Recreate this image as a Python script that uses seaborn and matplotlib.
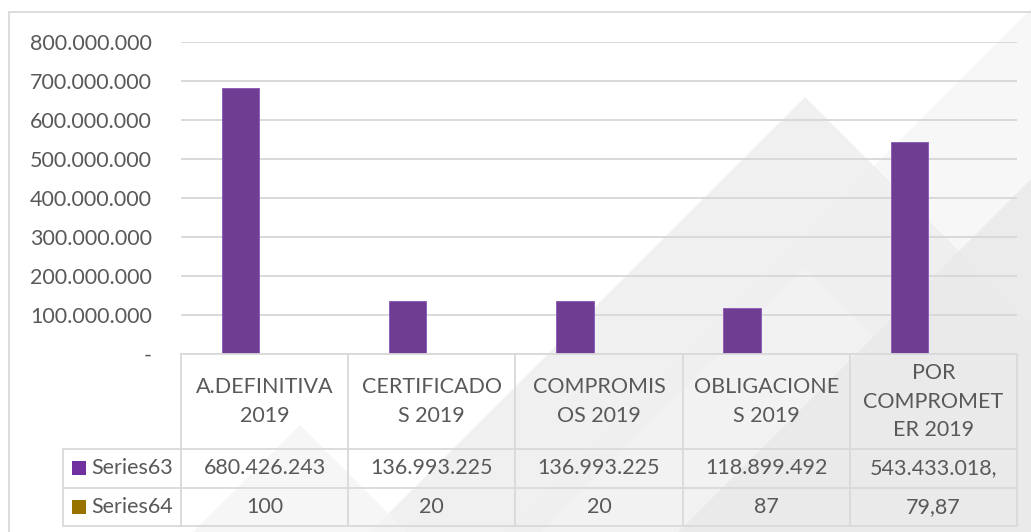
import matplotlib
matplotlib.use("Agg")
import matplotlib.pyplot as plt
import matplotlib.transforms as mtransforms
from matplotlib.lines import Line2D
from matplotlib.patches import Polygon, Rectangle
import pandas as pd
import seaborn as sns

# datos
categorias = ["A.DEFINITIVA 2019", "CERTIFICADOS 2019", "COMPROMISOS 2019",
              "OBLIGACIONES 2019", "POR COMPROMETER 2019"]
encabezados = ["A.DEFINITIVA\n2019", "CERTIFICADO\nS 2019", "COMPROMIS\nOS 2019",
               "OBLIGACIONE\nS 2019", "POR\nCOMPROMET\nER 2019"]
series = ["Series63", "Series64"]
serie63 = [680426243, 136993225, 136993225, 118899492, 543433018]
serie64 = [100, 20, 20, 87, 79.87]
texto63 = ["680.426.243", "136.993.225", "136.993.225", "118.899.492", "543.433.018,"]
texto64 = ["100", "20", "20", "87", "79,87"]
colores = ["#7030A0", "#997300"]
marcas_y = [0, 100e6, 200e6, 300e6, 400e6, 500e6, 600e6, 700e6, 800e6]

W, H = 1031, 532
GRIS_TXT = "#595959"
GRIS_LIN = "#d9d9d9"
FS = 15.5


def fx(px):
    return px / W


def fy(py):
    return 1 - py / H


def etiqueta_y(v):
    if v == 0:
        return "-"
    return "{:,.0f}".format(v).replace(",", ".")


sns.set_theme(style="white")
plt.rcParams["font.family"] = ["Lato", "DejaVu Sans"]

fig = plt.figure(figsize=(W / 100, H / 100), dpi=100)
fig.patch.set_facecolor("white")

# marca de agua de fondo (triangulos grises)
for pts, col in [
    ([(1045, -5), (1582, 532), (508, 532)], "#f5f5f5"),
    ([(805, 97), (1240, 532), (370, 532)], "#ededed"),
    ([(805, 268), (1069, 532), (541, 532)], "#f4f4f4"),
    ([(1060, 150), (1442, 532), (678, 532)], "#e9e9e9"),
    ([(300, 425), (407, 532), (193, 532)], "#f4f4f4"),
]:
    fig.add_artist(Polygon([(fx(a), fy(b)) for a, b in pts], closed=True,
                           transform=fig.transFigure, facecolor=col,
                           edgecolor="none", alpha=0.8, zorder=-2))

# borde del area del grafico
fig.add_artist(Line2D([fx(8.5), fx(8.5)], [fy(12), fy(540)], color=GRIS_LIN,
                      lw=1.3, transform=fig.transFigure, zorder=-1))
fig.add_artist(Line2D([fx(8.5), fx(1040)], [fy(12), fy(12)], color=GRIS_LIN,
                      lw=1.3, transform=fig.transFigure, zorder=-1))

ax = fig.add_axes([fx(181), fy(354), fx(1017) - fx(181), fy(41.7) - fy(354)])
ax.patch.set_alpha(0)

df = pd.DataFrame({
    "categoria": categorias * 2,
    "serie": [s for s in series for _ in categorias],
    "valor": serie63 + serie64,
})
sns.barplot(data=df, x="categoria", y="valor", hue="serie", palette=colores,
            width=0.576, gap=0.226, ax=ax, legend=False, zorder=3,
            edgecolor="#8a55b8", linewidth=0.6)

ax.set_xlim(-0.5, len(categorias) - 0.5)
ax.set_ylim(0, 800e6)
ax.set_yticks(marcas_y)
ax.set_yticklabels([etiqueta_y(v) for v in marcas_y])
ax.set_xticks([])
ax.set_xlabel("")
ax.set_ylabel("")
ax.set_axisbelow(True)
ax.yaxis.grid(True, color=GRIS_LIN, lw=1.4)
for s in ax.spines.values():
    s.set_visible(False)
ax.tick_params(axis="y", length=0, pad=21, labelsize=FS, labelcolor=GRIS_TXT)

# tabla de datos bajo el eje
tr = mtransforms.blended_transform_factory(ax.transData, fig.transFigure)
n = len(categorias)
x_izq, x_der = -0.5, n - 0.5
x_rot = -0.5 - (181 - 63) / (836 / n)
y_top, y_f1, y_f2, y_bot = fy(354), fy(449), fy(487.7), fy(526)

fig.add_artist(Line2D([x_izq, x_der], [y_top, y_top], color=GRIS_LIN, lw=1.3, transform=tr))
for yy in [y_f1, y_f2, y_bot]:
    fig.add_artist(Line2D([x_rot, x_der], [yy, yy], color=GRIS_LIN, lw=1.3, transform=tr))
for i in range(n + 1):
    fig.add_artist(Line2D([i - 0.5, i - 0.5], [y_top, y_bot], color=GRIS_LIN, lw=1.3, transform=tr))
fig.add_artist(Line2D([x_rot, x_rot], [y_f1, y_bot], color=GRIS_LIN, lw=1.3, transform=tr))

for i in range(n):
    fig.text(i, (y_top + y_f1) / 2, encabezados[i], transform=tr, ha="center",
             va="center", fontsize=FS, color=GRIS_TXT, linespacing=1.52)
    fig.text(i, (y_f1 + y_f2) / 2, texto63[i], transform=tr, ha="center",
             va="center", fontsize=FS, color=GRIS_TXT)
    fig.text(i, (y_f2 + y_bot) / 2, texto64[i], transform=tr, ha="center",
             va="center", fontsize=FS, color=GRIS_TXT)

for nombre, col, (ya, yb) in zip(series, colores, [(449, 487.7), (487.7, 526)]):
    yc = (ya + yb) / 2
    fig.add_artist(Rectangle((fx(72), fy(yc + 7)), fx(14), 14 / H,
                             transform=fig.transFigure, facecolor=col,
                             edgecolor="none"))
    fig.text(fx(91), fy(yc), nombre, ha="left", va="center", fontsize=FS,
             color=GRIS_TXT)

fig.savefig("out.png", dpi=100)
